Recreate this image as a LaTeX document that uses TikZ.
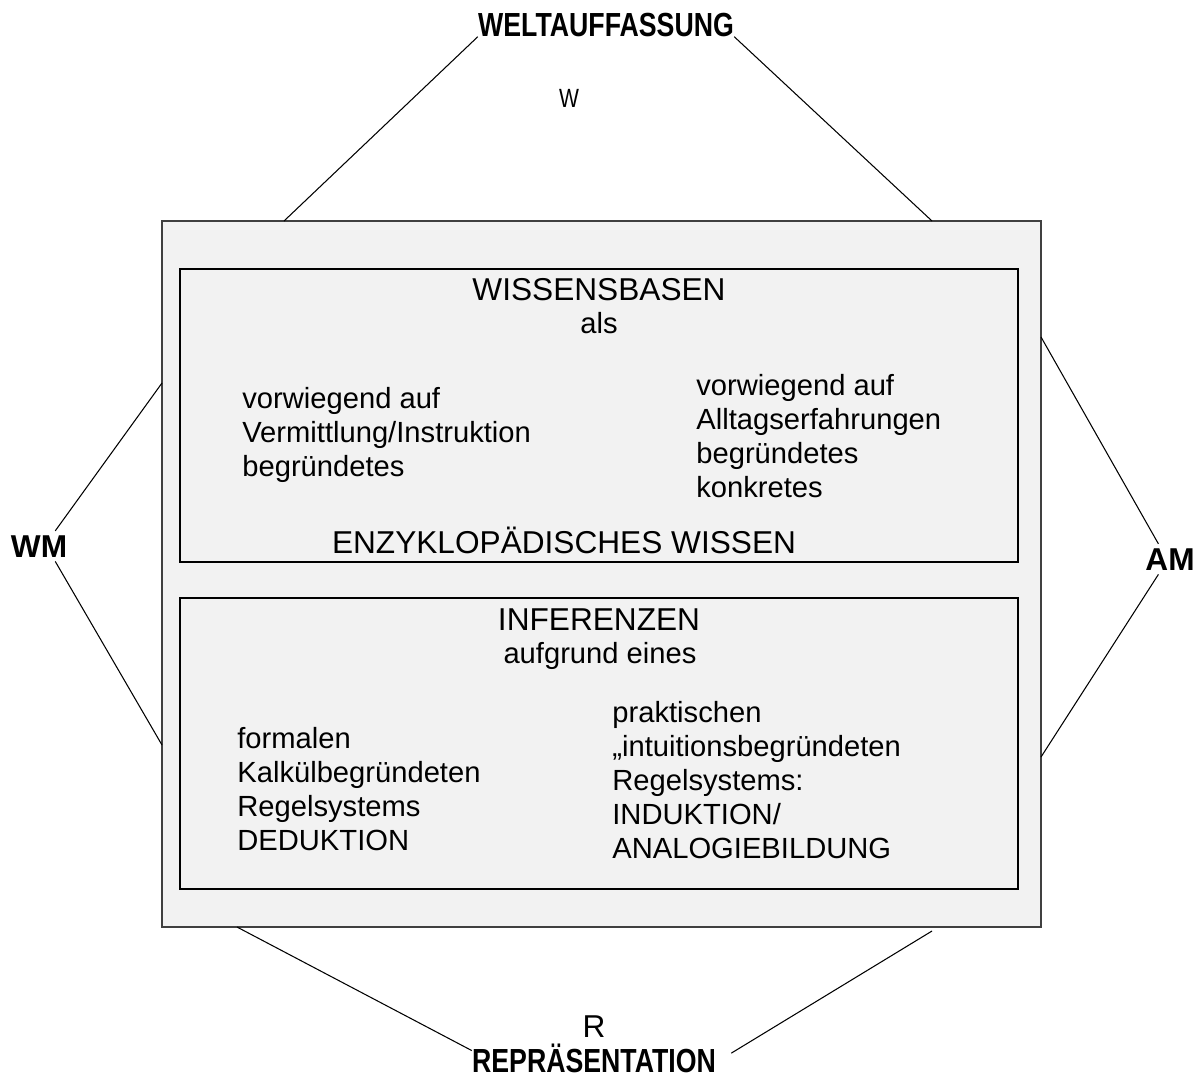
\documentclass[tikz,border=0pt]{standalone}
\usepackage{graphicx}
\usepackage{fontspec}
\setmainfont{Liberation Sans}
\usetikzlibrary{calc}
\definecolor{basecol}{RGB}{242,242,242}
\definecolor{framecol}{RGB}{64,64,64}
\newcommand{\headfont}{\fontsize{18}{21}\selectfont}
\newcommand{\bodyfont}{\fontsize{16.6}{19.3}\selectfont}
\newcommand{\narrow}[2][0.83]{\scalebox{#1}[1]{#2}}

\begin{document}
\begin{tikzpicture}[x=0.02cm,y=-0.02cm,
  lab/.style={font=\headfont\bfseries,inner sep=0pt,anchor=base},
  corner/.style={lab,inner sep=2.3pt},
  head/.style={font=\headfont,inner sep=0pt,anchor=base},
  sub/.style={font=\bodyfont,inner sep=0pt,anchor=base},
  txt/.style={font=\bodyfont,inner sep=0pt,align=left,anchor=north west},
  box/.style={draw=black,line width=1.2pt},
  con/.style={line width=0.6pt}]
  \useasboundingbox (0,0) rectangle (1202,1079);
  % gray frame and the two inner boxes
  \draw[fill=basecol,draw=framecol,line width=0.7pt] (162,221) rectangle (1041,927);
  \draw[box] (180,269) rectangle (1018,562);
  \draw[box] (180,598) rectangle (1018,889);
  % upper box
  \node[head] (wb) at (599,300) {WISSENSBASEN};
  \node[sub] (als) at (599,333) {als};
  \node[txt] (instr) at (242,387) {vorwiegend auf\\Vermittlung/Instruktion\\begründetes};
  \node[txt] (alltag) at (696,374) {vorwiegend auf\\Alltagserfahrungen\\begründetes\\konkretes};
  \node[head] (enz) at (564,553) {ENZYKLOPÄDISCHES WISSEN};
  % lower box
  \node[head] (inf) at (599,630) {INFERENZEN};
  \node[sub] (aufg) at (600,663) {aufgrund eines};
  \node[txt] (formal) at (237,727) {formalen\\Kalkülbegründeten\\Regelsystems\\DEDUKTION};
  \node[txt] (prakt) at (612,701) {praktischen\\„intuitionsbegründeten\\Regelsystems:\\INDUKTION/\\ANALOGIEBILDUNG};
  % corner labels
  \node[lab,font=\fontsize{19}{22}\selectfont\bfseries] (welt) at (606,36) {\narrow[0.8]{WELTAUFFASSUNG}};
  \node[font=\fontsize{15}{18}\selectfont,inner sep=0pt,anchor=base] (w) at (569,107) {\narrow[0.8]{W}};
  \node[corner] (wm) at (39,557) {WM};
  \node[corner] (am) at (1170,570) {AM};
  \node[font=\headfont,inner sep=0pt,anchor=base] (r) at (594,1037) {R};
  \node[lab,font=\fontsize{19}{22}\selectfont\bfseries] (rep) at (594,1072) {\narrow[0.8]{REPRÄSENTATION}};
  % where the lines meet the frame
  \coordinate (tl) at (284,221);
  \coordinate (tr) at (932,221);
  \coordinate (lu) at (162,383);
  \coordinate (ll) at (162,745);
  \coordinate (ru) at (1041,337);
  \coordinate (rl) at (1041,757);
  \coordinate (bl) at (237,927);
  \coordinate (br) at (932,931);
  \draw[con] (welt.south west) -- (tl);
  \draw[con] (welt.south east) -- (tr);
  \draw[con] ($(wm.north)!.5!(wm.north east)$) -- (lu);
  \draw[con] ($(wm.south)!.5!(wm.south east)$) -- (ll);
  \draw[con] ($(am.north west)!.6!(am.north)$) -- (ru);
  \draw[con] ($(am.south west)!.6!(am.south)$) -- (rl);
  \draw[con] ($(rep.west)!.5!(rep.north west)$) -- (bl);
  \draw[con] ($(rep.north east)+(15,10)$) -- (br);
\end{tikzpicture}
\end{document}
